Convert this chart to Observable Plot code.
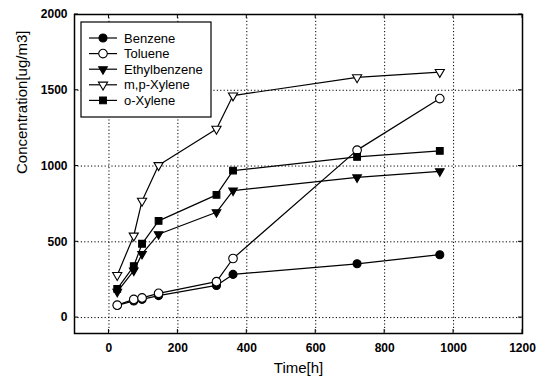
<!DOCTYPE html>
<html><head><meta charset="utf-8">
<script src="https://cdn.jsdelivr.net/npm/d3@7"></script>
<script src="https://cdn.jsdelivr.net/npm/@observablehq/plot@0.6"></script>
<style>
body{margin:0;background:#fff}
#chart{width:546px;height:378px}
</style>
</head><body><div id="chart"></div>
<script>
const times = [24, 72, 96, 144, 312, 360, 720, 960];
const seriesNames = ["Benzene", "Toluene", "Ethylbenzene", "m,p-Xylene", "o-Xylene"];
const benzene = [80, 110, 120, 145, 212, 285, 355, 415];
const toluene = [82, 120, 130, 160, 237, 390, 1105, 1445];
const ethylbenzene = [170, 310, 420, 550, 695, 838, 925, 965];
const mpXylene = [280, 540, 770, 1005, 1245, 1465, 1585, 1620];
const oXylene = [190, 340, 487, 638, 810, 970, 1060, 1100];
const xTicks = [0, 200, 400, 600, 800, 1000, 1200];
const yTicks = [0, 500, 1000, 1500, 2000];
const xGrid = [0, 200, 400, 600, 800, 1000];
const yGrid = [0, 500, 1000, 1500];
const xTitle = "Time[h]";
const yTitle = "Concentration[ug/m3]";

const values = [benzene, toluene, ethylbenzene, mpXylene, oXylene];
const rows = [];
seriesNames.forEach((s, i) => times.forEach((t, j) => rows.push({series: s, time: t, value: values[i][j]})));

const styles = {
  "Benzene": {symbol: "circle", fill: "#000", r: 4, rotate: 0},
  "Toluene": {symbol: "circle", fill: "#fff", r: 4.3, rotate: 0},
  "Ethylbenzene": {symbol: "triangle", fill: "#000", r: 3.2, rotate: 180},
  "m,p-Xylene": {symbol: "triangle", fill: "#fff", r: 3.4, rotate: 180},
  "o-Xylene": {symbol: "square", fill: "#000", r: 3.8, rotate: 0}
};

const font = "'Liberation Sans', Arial, sans-serif";
const dash = "1.2,2.2";

const dotMarks = seriesNames.map(s => Plot.dot(rows.filter(d => d.series === s), {
  x: "time", y: "value", symbol: () => styles[s].symbol, r: styles[s].r,
  fill: styles[s].fill, stroke: "#000", strokeWidth: 1.1, rotate: styles[s].rotate
}));

const plot = Plot.plot({
  width: 546, height: 378,
  marginLeft: 74, marginRight: 24, marginTop: 14, marginBottom: 45,
  style: {fontFamily: font, fontSize: "12px", color: "#000", background: "#fff", overflow: "visible"},
  symbol: {type: "identity"},
  x: {domain: [-100, 1200]},
  y: {domain: [-105, 2000]},
  marks: [
    Plot.gridX(xGrid, {stroke: "#000", strokeOpacity: 1, strokeDasharray: dash, strokeWidth: 1}),
    Plot.gridY(yGrid, {stroke: "#000", strokeOpacity: 1, strokeDasharray: dash, strokeWidth: 1}),
    Plot.axisX(xTicks, {tickSize: 0, tickPadding: 10, tickFormat: d => String(d), label: null, fontWeight: "bold", fontSize: 12}),
    Plot.axisY(yTicks, {tickSize: 0, tickPadding: 7, tickFormat: d => String(d), label: null, fontWeight: "bold", fontSize: 12}),
    Plot.text([xTitle], {text: d => d, frameAnchor: "bottom", dy: 39, fontSize: 15, fill: "#000"}),
    Plot.text([yTitle], {text: d => d, frameAnchor: "left", dx: -52, rotate: -90, fontSize: 15, fill: "#000"}),
    Plot.line(rows, {x: "time", y: "value", z: "series", stroke: "#000", strokeWidth: 1.2}),
    ...dotMarks,
    Plot.frame({stroke: "#000", strokeWidth: 1.5})
  ]
});

document.getElementById("chart").appendChild(plot);

// inward tick marks through the plot's scales
const sx = plot.scale("x"), sy = plot.scale("y");
const svg = d3.select(plot);
const y0 = sy.apply(sy.domain[0]), y1 = sy.apply(sy.domain[1]);
const x0 = sx.apply(sx.domain[0]), x1 = sx.apply(sx.domain[1]);
const tg = svg.append("g").attr("stroke", "#000").attr("stroke-width", 1);
xTicks.forEach(t => {
  const px = sx.apply(t);
  tg.append("line").attr("x1", px).attr("x2", px).attr("y1", y0).attr("y2", y0 - 4);
  tg.append("line").attr("x1", px).attr("x2", px).attr("y1", y1).attr("y2", y1 + 4);
});
yTicks.forEach(t => {
  const py = sy.apply(t);
  tg.append("line").attr("y1", py).attr("y2", py).attr("x1", x0).attr("x2", x0 + 4);
  tg.append("line").attr("y1", py).attr("y2", py).attr("x1", x1).attr("x2", x1 - 4);
});

// legend
const lg = svg.append("g").attr("transform", "translate(81,22)")
  .style("font-family", font).attr("text-anchor", "start");
lg.append("rect").attr("width", 130).attr("height", 95).attr("fill", "#fff").attr("stroke", "#000").attr("stroke-width", 1.2);
const symMap = {circle: d3.symbolCircle, triangle: d3.symbolTriangle, square: d3.symbolSquare};
seriesNames.forEach((s, i) => {
  const st = styles[s];
  const yy = 16 + i * 15.6;
  lg.append("line").attr("x1", 8).attr("x2", 36).attr("y1", yy).attr("y2", yy).attr("stroke", "#000").attr("stroke-width", 1.2);
  lg.append("path").attr("d", d3.symbol(symMap[st.symbol], Math.PI * st.r * st.r)())
    .attr("transform", `translate(22,${yy}) rotate(${st.rotate})`)
    .attr("fill", st.fill).attr("stroke", "#000").attr("stroke-width", 1.1);
  lg.append("text").attr("x", 43).attr("y", yy).attr("dy", "0.36em")
    .attr("text-anchor", "start").attr("font-size", 13).attr("fill", "#000").text(s);
});
</script>
</body></html>
